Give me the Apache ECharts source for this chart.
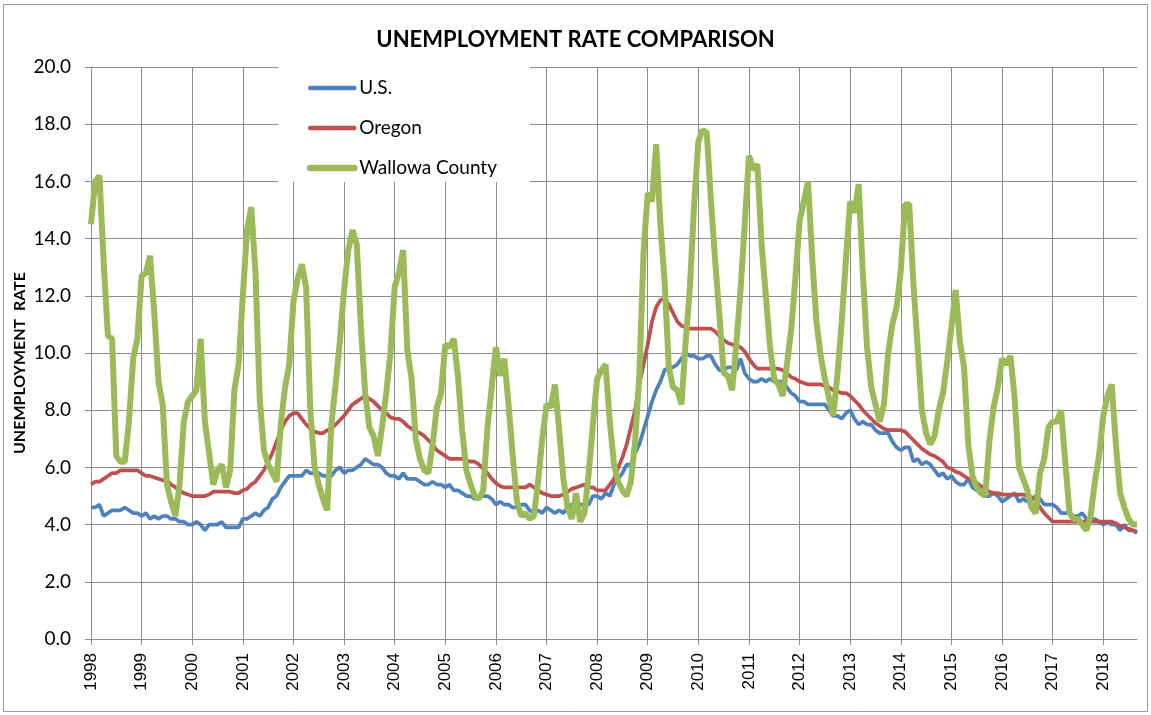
<!DOCTYPE html>
<html>
<head>
<meta charset="utf-8">
<title>Unemployment Rate Comparison</title>
<script src="https://cdn.jsdelivr.net/npm/echarts@6/dist/echarts.min.js"></script>
<style>
  html, body { margin: 0; padding: 0; background: #fff; }
  #chart { width: 1151px; height: 715px; }
</style>
</head>
<body>
<div id="chart"></div>
<script>
// monthly rates, Jan 1998 - Sep 2018, one row per year
var yearLabels = ['1998','1999','2000','2001','2002','2003','2004','2005','2006','2007',
                  '2008','2009','2010','2011','2012','2013','2014','2015','2016','2017','2018'];

var usRate = [
  [4.6,4.6,4.7,4.3,4.4,4.5,4.5,4.5,4.6,4.5,4.4,4.4],
  [4.3,4.4,4.2,4.3,4.2,4.3,4.3,4.2,4.2,4.1,4.1,4.0],
  [4.0,4.1,4.0,3.8,4.0,4.0,4.0,4.1,3.9,3.9,3.9,3.9],
  [4.2,4.2,4.3,4.4,4.3,4.5,4.6,4.9,5.0,5.3,5.5,5.7],
  [5.7,5.7,5.7,5.9,5.8,5.8,5.8,5.7,5.7,5.7,5.9,6.0],
  [5.8,5.9,5.9,6.0,6.1,6.3,6.2,6.1,6.1,6.0,5.8,5.7],
  [5.7,5.6,5.8,5.6,5.6,5.6,5.5,5.4,5.4,5.5,5.4,5.4],
  [5.3,5.4,5.2,5.2,5.1,5.0,5.0,4.9,5.0,5.0,5.0,4.9],
  [4.7,4.8,4.7,4.7,4.6,4.6,4.7,4.7,4.5,4.4,4.5,4.4],
  [4.6,4.5,4.4,4.5,4.4,4.6,4.7,4.6,4.7,4.7,4.7,5.0],
  [5.0,4.9,5.1,5.0,5.4,5.6,5.8,6.1,6.1,6.5,6.8,7.3],
  [7.8,8.3,8.7,9.0,9.4,9.5,9.5,9.6,9.8,10.0,9.9,9.9],
  [9.8,9.8,9.9,9.9,9.6,9.4,9.4,9.5,9.5,9.4,9.8,9.3],
  [9.1,9.0,9.0,9.1,9.0,9.1,9.0,9.0,9.0,8.8,8.6,8.5],
  [8.3,8.3,8.2,8.2,8.2,8.2,8.2,8.0,7.8,7.8,7.7,7.9],
  [8.0,7.7,7.5,7.6,7.5,7.5,7.3,7.2,7.2,7.2,6.9,6.7],
  [6.6,6.7,6.7,6.2,6.3,6.1,6.2,6.1,5.9,5.7,5.8,5.6],
  [5.7,5.5,5.4,5.4,5.6,5.3,5.2,5.1,5.0,5.0,5.1,5.0],
  [4.8,4.9,5.0,5.1,4.8,4.9,4.8,4.9,5.0,4.9,4.7,4.7],
  [4.7,4.6,4.4,4.4,4.4,4.3,4.3,4.4,4.2,4.1,4.2,4.1],
  [4.0,4.1,4.0,4.0,3.8,4.0,3.8,3.8,3.7]
];

var oregonRate = [
  [5.4,5.5,5.5,5.6,5.7,5.8,5.8,5.9,5.9,5.9,5.9,5.9],
  [5.8,5.7,5.7,5.65,5.6,5.55,5.55,5.4,5.3,5.2,5.1,5.05],
  [5.0,5.0,5.0,5.0,5.05,5.15,5.15,5.15,5.15,5.15,5.1,5.1],
  [5.2,5.25,5.4,5.5,5.7,5.9,6.2,6.5,6.9,7.3,7.6,7.8],
  [7.9,7.9,7.7,7.5,7.35,7.25,7.2,7.2,7.3,7.35,7.5,7.65],
  [7.8,8.0,8.2,8.3,8.4,8.5,8.4,8.3,8.15,8.0,7.9,7.75],
  [7.7,7.7,7.6,7.45,7.35,7.25,7.2,7.1,6.95,6.8,6.6,6.5],
  [6.4,6.3,6.3,6.3,6.3,6.25,6.2,6.2,6.1,5.95,5.8,5.6],
  [5.45,5.35,5.3,5.3,5.3,5.3,5.3,5.3,5.4,5.3,5.2,5.1],
  [5.05,5.0,5.0,5.0,5.05,5.15,5.25,5.3,5.35,5.4,5.3,5.3],
  [5.2,5.2,5.2,5.4,5.6,6.0,6.35,6.8,7.4,8.0,8.9,9.6],
  [10.3,11.1,11.6,11.85,11.9,11.7,11.4,11.1,10.95,10.9,10.85,10.85],
  [10.85,10.85,10.85,10.85,10.75,10.6,10.45,10.35,10.3,10.25,10.2,10.05],
  [9.8,9.6,9.45,9.45,9.45,9.45,9.45,9.45,9.4,9.3,9.15,9.1],
  [9.0,8.95,8.9,8.9,8.9,8.9,8.85,8.8,8.7,8.65,8.6,8.6],
  [8.5,8.35,8.2,8.0,7.85,7.7,7.55,7.45,7.35,7.3,7.3,7.3],
  [7.3,7.25,7.1,6.95,6.8,6.65,6.55,6.45,6.4,6.3,6.2,6.0],
  [5.95,5.85,5.8,5.7,5.6,5.55,5.45,5.35,5.25,5.15,5.1,5.1],
  [5.05,5.05,5.05,5.05,5.05,5.05,5.0,4.95,4.85,4.6,4.4,4.25],
  [4.1,4.1,4.1,4.1,4.1,4.1,4.1,4.1,4.1,4.1,4.1,4.1],
  [4.1,4.1,4.1,4.05,3.95,3.9,3.85,3.8,3.75]
];

var wallowaRate = [
  [14.5,16.0,16.2,13.2,10.6,10.5,6.4,6.2,6.2,7.6,9.8,10.5],
  [12.7,12.8,13.4,11.4,9.0,8.2,5.4,4.8,4.3,5.4,7.6,8.3],
  [8.5,8.7,10.5,7.6,6.5,5.4,5.9,6.1,5.3,5.9,8.7,9.6],
  [12.0,14.3,15.1,12.8,8.4,6.6,6.1,5.8,5.5,7.5,8.8,9.6],
  [11.8,12.6,13.1,12.3,8.0,6.0,5.4,4.9,4.5,7.5,8.9,10.4],
  [12.2,13.6,14.3,13.8,10.9,8.6,7.4,7.1,6.4,7.4,8.6,10.0],
  [12.3,12.8,13.6,10.1,9.1,7.0,6.3,5.9,5.8,6.8,8.1,8.6],
  [10.3,10.2,10.5,9.2,7.3,5.9,5.4,5.0,4.9,5.2,7.4,8.8],
  [10.2,9.2,9.8,8.2,6.4,4.8,4.3,4.4,4.2,4.3,5.5,7.0],
  [8.2,8.1,8.9,7.3,5.6,4.6,4.2,5.1,4.1,4.4,5.8,7.5],
  [9.1,9.4,9.6,7.6,6.1,5.5,5.2,5.0,5.5,6.9,9.2,13.5],
  [15.6,15.3,17.3,14.5,12.5,9.5,8.8,8.7,8.2,10.4,12.3,15.2],
  [17.4,17.8,17.7,15.3,13.2,11.3,9.3,9.2,8.7,10.3,12.2,14.5],
  [16.9,16.4,16.6,13.8,12.0,10.2,9.1,8.9,8.5,9.6,10.8,12.6],
  [14.6,15.3,16.0,13.3,11.1,9.9,9.1,8.4,7.8,9.3,11.1,13.3],
  [15.3,14.9,15.9,12.8,10.2,8.8,8.2,7.6,8.2,10.0,11.0,11.6],
  [12.9,15.2,15.2,12.4,10.2,8.0,7.2,6.8,7.1,8.0,8.6,9.7],
  [10.9,12.2,10.4,9.5,6.8,5.7,5.3,5.1,5.0,6.9,8.1,8.8],
  [9.8,9.6,9.9,8.4,6.0,5.6,5.2,4.6,4.4,5.8,6.3,7.4],
  [7.6,7.6,8.0,6.2,4.4,4.2,4.2,4.0,3.8,4.3,5.5,6.4],
  [7.8,8.5,8.9,6.8,5.1,4.6,4.2,4.0,4.0]
];

// flatten the yearly rows and make one category per month
function flat(rows) {
  var out = [];
  rows.forEach(function (r) { out = out.concat(r); });
  return out;
}
var usData = flat(usRate);
var oregonData = flat(oregonRate);
var wallowaData = flat(wallowaRate);

var months = [];
yearLabels.forEach(function (y, i) {
  for (var m = 0; m < usRate[i].length; m++) {
    months.push(y + '-' + (m < 9 ? '0' : '') + (m + 1));
  }
});

function isJan(index) { return index % 12 === 0; }

var gridColor = '#8c8c8c';
var usColor = '#4F81BD', orColor = '#C0504D', waColor = '#9BBB59';

var myChart = echarts.init(document.getElementById('chart'));

var option = {
  animation: false,
  backgroundColor: '#fff',
  title: {
    text: 'UNEMPLOYMENT RATE COMPARISON',
    left: 'center',
    top: 24,
    textStyle: { fontFamily: 'Lato', fontWeight: 'bold', fontSize: 22, color: '#000' }
  },
  legend: {
    orient: 'vertical',
    left: 278,
    top: 67,
    backgroundColor: '#fff',
    padding: [11, 33, 4, 29],
    itemGap: 20,
    itemWidth: 44,
    itemHeight: 14,
    itemStyle: { opacity: 0 },   // hide the dot, keep only the line
    textStyle: { fontFamily: 'Lato', fontSize: 19, color: '#000', lineHeight: 20 },
    data: [
      { name: 'U.S.', lineStyle: { width: 4.5, cap: 'round', color: usColor } },
      { name: 'Oregon', lineStyle: { width: 4.5, cap: 'round', color: orColor } },
      { name: 'Wallowa County', lineStyle: { width: 6.5, cap: 'round', color: waColor } }
    ]
  },
  grid: {
    left: 91,
    top: 67,
    width: 1046,
    height: 572
  },
  xAxis: {
    type: 'category',
    boundaryGap: false,
    data: months,
    axisLine: { lineStyle: { color: gridColor } },
    axisTick: { interval: isJan, length: 6, lineStyle: { color: gridColor } },
    axisLabel: {
      interval: isJan,
      rotate: 90,
      margin: 14,
      fontFamily: 'Liberation Sans',
      fontSize: 17,
      color: '#000',
      formatter: function (v) { return v.slice(0, 4); }
    },
    splitLine: { show: true, interval: isJan, lineStyle: { color: gridColor, width: 1 } }
  },
  yAxis: {
    type: 'value',
    min: 0,
    max: 20,
    interval: 2,
    axisLine: { show: true, lineStyle: { color: gridColor } },
    axisTick: { show: true, length: 6, lineStyle: { color: gridColor } },
    axisLabel: {
      margin: 20,
      fontFamily: 'Lato',
      fontSize: 19,
      color: '#000',
      formatter: function (v) { return v.toFixed(1); }
    },
    splitLine: { lineStyle: { color: gridColor, width: 1 } }
  },
  graphic: [
    {
      type: 'rect',
      silent: true,
      shape: { x: 3.5, y: 4.5, width: 1144, height: 707 },
      style: { fill: 'none', stroke: '#9a9a9a', lineWidth: 1 }
    },
    {
      type: 'text',
      silent: true,
      x: 20,
      y: 363,
      rotation: Math.PI / 2,
      style: {
        text: 'UNEMPLOYMENT  RATE',
        fontFamily: 'Lato',
        fontWeight: 'bold',
        fontSize: 16,
        fill: '#000',
        align: 'center',
        verticalAlign: 'middle'
      }
    }
  ],
  series: [
    {
      name: 'U.S.',
      type: 'line',
      data: usData,
      showSymbol: false,
      symbol: 'none',
      color: usColor,
      lineStyle: { color: usColor, width: 3.75 }
    },
    {
      name: 'Oregon',
      type: 'line',
      data: oregonData,
      showSymbol: false,
      symbol: 'none',
      color: orColor,
      lineStyle: { color: orColor, width: 3.75 }
    },
    {
      name: 'Wallowa County',
      type: 'line',
      data: wallowaData,
      showSymbol: false,
      symbol: 'none',
      color: waColor,
      lineStyle: { color: waColor, width: 6 }
    }
  ]
};

myChart.setOption(option);
</script>
</body>
</html>
